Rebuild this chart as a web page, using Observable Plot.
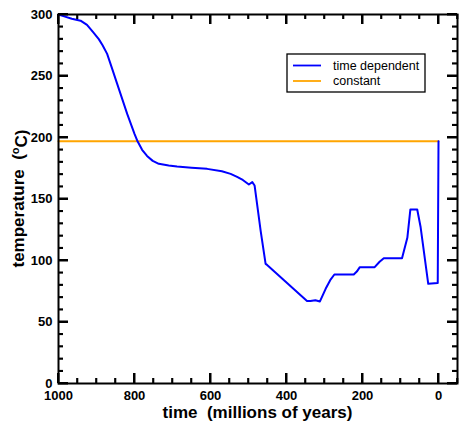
<!DOCTYPE html>
<html>
<head>
<meta charset="utf-8">
<script src="https://cdn.jsdelivr.net/npm/d3@7"></script>
<script src="https://cdn.jsdelivr.net/npm/@observablehq/plot@0.6"></script>
<style>
  body { margin: 0; background: #fff; }
  svg { display: block; }
</style>
</head>
<body>
<div id="chart"></div>
<script>
// time dependent series (age in Ma, temperature in °C)
const ageTD = [1000, 985, 965, 942, 925, 910, 894, 884, 872, 860, 846, 819, 800, 793, 780, 767, 752, 736, 710, 688, 650, 609, 570, 547, 530, 515, 499, 490, 484, 468, 455, 451, 346, 337, 324, 312, 297, 285, 274, 223, 215, 207, 168, 155, 144, 96, 82, 74, 56, 47, 27, 2, 0];
const tempTD = [300, 298.5, 296.5, 295, 291.5, 286, 280, 275, 268, 257, 244, 219, 203, 197.6, 190, 185, 181, 178.6, 177.3, 176.4, 175.5, 174.5, 172.5, 170.4, 168, 165.5, 161.8, 163.7, 161, 124, 97.3, 96.4, 67, 67, 67.7, 66.7, 77, 84, 88.6, 88.6, 91, 94.6, 94.6, 99, 101.9, 101.9, 118.4, 141.5, 141.5, 127, 81, 81.7, 197];
// constant series
const ageC = [1000, 0];
const tempC = [197, 197];

// ticks
const xMajor = [1000, 800, 600, 400, 200, 0];
const xMinor = [950, 900, 850, 750, 700, 650, 550, 500, 450, 350, 300, 250, 150, 100, 50, -50];
const yMajor = [0, 50, 100, 150, 200, 250, 300];
const yMinor = [10, 20, 30, 40, 60, 70, 80, 90, 110, 120, 130, 140, 160, 170, 180, 190, 210, 220, 230, 240, 260, 270, 280, 290];

const seriesNames = ["time dependent", "constant"];
const seriesColors = ["#0000ff", "#ffa500"];

const td = ageTD.map((a, i) => ({age: a, temp: tempTD[i]}));
const cst = ageC.map((a, i) => ({age: a, temp: tempC[i]}));

const W = 469, H = 424;
const mL = 58, mR = 12, mT = 14, mB = 41;
const iw = W - mL - mR, ih = H - mT - mB;
const majorLen = 10, minorLen = 5;

const font = "Liberation Sans, Arial, Helvetica, sans-serif";

const plot = Plot.plot({
  width: W,
  height: H,
  marginLeft: mL,
  marginRight: mR,
  marginTop: mT,
  marginBottom: mB,
  style: {fontSize: "13px", fontWeight: "bold", background: "#fff", color: "#000"},
  x: {domain: [1000, -50], label: null},
  y: {domain: [0, 300], label: null},
  marks: [
    Plot.tickX(xMajor, {x: d => d, insetTop: ih - majorLen, stroke: "#000", strokeWidth: 2}),
    Plot.tickX(xMinor, {x: d => d, insetTop: ih - minorLen, stroke: "#000", strokeWidth: 1.6}),
    Plot.tickX(xMajor, {x: d => d, insetBottom: ih - majorLen, stroke: "#000", strokeWidth: 2}),
    Plot.tickX(xMinor, {x: d => d, insetBottom: ih - minorLen, stroke: "#000", strokeWidth: 1.6}),
    Plot.tickY(yMajor, {y: d => d, insetRight: iw - majorLen, stroke: "#000", strokeWidth: 2}),
    Plot.tickY(yMinor, {y: d => d, insetRight: iw - minorLen, stroke: "#000", strokeWidth: 1.6}),
    Plot.tickY(yMajor, {y: d => d, insetLeft: iw - majorLen, stroke: "#000", strokeWidth: 2}),
    Plot.tickY(yMinor, {y: d => d, insetLeft: iw - minorLen, stroke: "#000", strokeWidth: 1.6}),
    Plot.axisX(xMajor, {anchor: "bottom", tickSize: 0, tickPadding: 7, label: null, tickFormat: d => String(d), fontFamily: font}),
    Plot.axisY(yMajor, {anchor: "left", tickSize: 0, tickPadding: 6, label: null, tickFormat: d => String(d), fontFamily: font}),
    Plot.line(cst, {x: "age", y: "temp", stroke: seriesColors[1], strokeWidth: 2}),
    Plot.line(td, {x: "age", y: "temp", stroke: seriesColors[0], strokeWidth: 2}),
    Plot.frame({stroke: "#000", strokeWidth: 2})
  ]
});

document.getElementById("chart").appendChild(plot);

const svg = d3.select(plot);
const sx = plot.scale("x"), sy = plot.scale("y");
const x0 = mL, x1 = W - mR, y0 = mT, y1 = H - mB;

// backup: tick marks as small filled rectangles positioned by the plot's scales
const tg = svg.append("g").attr("fill", "#000");
function addX(vals, len, w) {
  vals.forEach(v => {
    const px = sx.apply(v);
    tg.append("rect").attr("x", px - w / 2).attr("y", y1 - len).attr("width", w).attr("height", len).attr("fill", "#000");
    tg.append("rect").attr("x", px - w / 2).attr("y", y0).attr("width", w).attr("height", len).attr("fill", "#000");
  });
}
function addY(vals, len, w) {
  vals.forEach(v => {
    const py = sy.apply(v);
    tg.append("rect").attr("x", x0).attr("y", py - w / 2).attr("width", len).attr("height", w).attr("fill", "#000");
    tg.append("rect").attr("x", x1 - len).attr("y", py - w / 2).attr("width", len).attr("height", w).attr("fill", "#000");
  });
}
addX(xMajor, majorLen, 2);
addX(xMinor, minorLen, 1.6);
addY(yMajor, majorLen, 2);
addY(yMinor, minorLen, 1.6);

// axis titles
svg.append("text")
  .attr("x", (mL + W - mR) / 2)
  .attr("y", 418)
  .attr("text-anchor", "middle")
  .attr("font-family", font)
  .attr("font-size", 17)
  .attr("font-weight", "bold")
  .text("time\u00a0 (millions of years)");

const yt = svg.append("text")
  .attr("transform", `translate(24,${(mT + H - mB) / 2}) rotate(-90)`)
  .attr("text-anchor", "middle")
  .attr("font-family", font)
  .attr("font-size", 17)
  .attr("font-weight", "bold");
yt.append("tspan").text("temperature\u00a0 (");
yt.append("tspan").attr("dy", "-0.45em").attr("font-size", 11).text("o");
yt.append("tspan").attr("dy", "0.45em").text("C)");

// legend
const lg = svg.append("g").attr("font-family", font);
lg.append("rect")
  .attr("x", 287).attr("y", 54).attr("width", 138).attr("height", 38)
  .attr("fill", "#fff").attr("stroke", "#000").attr("stroke-width", 1.3);
seriesNames.forEach((name, i) => {
  const y = 65.5 + i * 15.5;
  lg.append("line")
    .attr("x1", 293).attr("x2", 321).attr("y1", y).attr("y2", y)
    .attr("stroke", seriesColors[i]).attr("stroke-width", 1.8);
  lg.append("text")
    .attr("x", 333).attr("y", y + 4.3)
    .attr("text-anchor", "start")
    .attr("font-size", 12.5).attr("font-weight", "normal")
    .text(name);
});
</script>
</body>
</html>
